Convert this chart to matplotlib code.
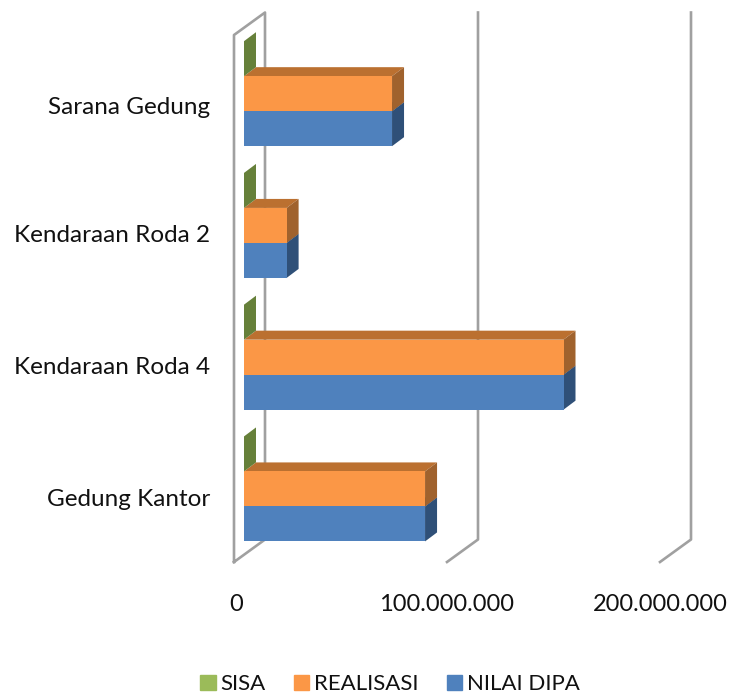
import numpy as np
import matplotlib
matplotlib.use('Agg')
from matplotlib import pyplot as plt
from matplotlib.patches import Patch
from matplotlib.transforms import ScaledTranslation

categories = ['Gedung Kantor', 'Kendaraan Roda 4', 'Kendaraan Roda 2', 'Sarana Gedung']
nilai_dipa = [85000000, 150000000, 20000000, 69500000]
realisasi = [85000000, 150000000, 20000000, 69500000]
sisa = [0, 0, 0, 0]
xticks = [0, 100000000, 200000000]
xticklabels = ['0', '100.000.000', '200.000.000']

plt.rcParams['font.family'] = ['Lato', 'DejaVu Sans']
W, H = 730, 695
fig = plt.figure(figsize=(W / 100, H / 100), dpi=100)
ax = fig.add_axes([234 / W, 1 - 562 / H, 426 / W, 527 / H])
ax.set_xlim(0, 200000000)
ax.set_ylim(-0.5, 3.5)
for s in ax.spines.values():
    s.set_visible(False)

# pixel sizes in data units
px = 200000000 / 426
py = 4 / 527
wall_dx, wall_dy = 31 * px, 22.5 * py
bar_x0 = 10 * px
bar_y0 = 7.2 * py
dep_x, dep_y = 12 * px, 9 * py
h = 35 * py

grey = '#A0A0A0'
# side wall and back gridlines
ax.plot([0, 0, wall_dx, wall_dx, 0], [-0.5, 3.5, 3.5 + wall_dy, -0.5 + wall_dy, -0.5],
        color=grey, lw=1.9, clip_on=False, zorder=1)
for t in xticks[1:]:
    ax.plot([t, t + wall_dx, t + wall_dx], [-0.5, -0.5 + wall_dy, 3.5 + wall_dy],
            color=grey, lw=1.9, clip_on=False, zorder=1)


def bar3d(y, value, face, top, side, z):
    x0 = bar_x0
    x1 = bar_x0 + value
    ax.fill([x0, x1, x1 + dep_x, x0 + dep_x], [y + h, y + h, y + h + dep_y, y + h + dep_y],
            color=top, lw=0, clip_on=False, zorder=z)
    ax.fill([x1, x1 + dep_x, x1 + dep_x, x1], [y, y + dep_y, y + h + dep_y, y + h],
            color=side, lw=0, clip_on=False, zorder=z)
    ax.barh(y, value, height=h, left=x0, align='edge', color=face, lw=0, clip_on=False, zorder=z)


for i in range(len(categories)):
    # lowest edge of the three stacked bars in this group
    y = i + bar_y0 - 1.5 * h
    bar3d(y, nilai_dipa[i], '#4F81BD', '#2F5078', '#2F5078', 2)
    bar3d(y + h, realisasi[i], '#FB9746', '#BB7030', '#A0622D', 3)
    bar3d(y + 2 * h, sisa[i], '#9BBB59', '#66803A', '#66803A', 4)

ax.set_xticks(xticks)
ax.set_xticklabels(xticklabels, fontsize=17, color='#111111')
ax.set_yticks(range(len(categories)))
ax.set_yticklabels(categories, fontsize=17.5, color='#111111')
ax.tick_params(axis='both', length=0)
ax.tick_params(axis='x', pad=23)
ax.tick_params(axis='y', pad=17)

# small nudges of single labels, in pixels at dpi 100
for lab, dy in zip(ax.get_yticklabels(), [-1, -1, -1, -5]):
    lab.set_transform(lab.get_transform() + ScaledTranslation(0, dy / 100, fig.dpi_scale_trans))
x0_lab = ax.get_xticklabels()[0]
x0_lab.set_transform(x0_lab.get_transform() + ScaledTranslation(2 / 100, 0, fig.dpi_scale_trans))

handles = [Patch(color='#9BBB59', label='SISA'),
           Patch(color='#FB9746', label='REALISASI'),
           Patch(color='#4F81BD', label='NILAI DIPA')]
fig.legend(handles=handles, loc='lower center', bbox_to_anchor=(390 / W, -0.028), ncol=3, frameon=False,
           fontsize=16, handlelength=0.68, handleheight=0.68, handletextpad=0.2,
           columnspacing=1.3, labelcolor='#111111')

fig.savefig('out.png', dpi=100)
